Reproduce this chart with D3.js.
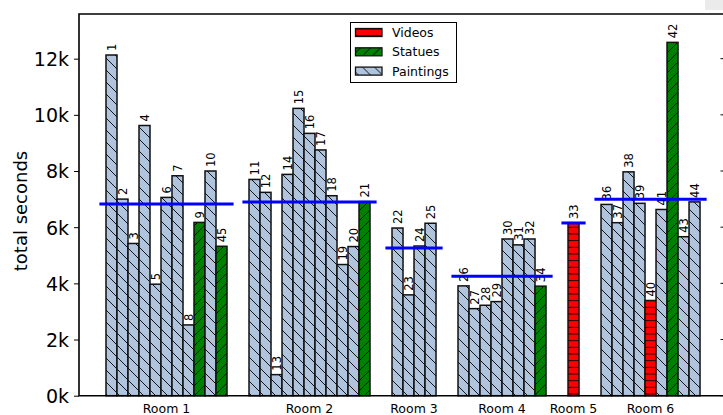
<!DOCTYPE html>
<html>
<head>
<meta charset="utf-8">
<script src="https://cdn.jsdelivr.net/npm/d3@7"></script>
<style>
  html, body { margin: 0; padding: 0; background: #fff; }
  svg { display: block; font-family: "DejaVu Sans", sans-serif; }
</style>
</head>
<body>
<svg id="chart" width="723" height="415"></svg>
<script>
// Time spent per exhibit, grouped by room
const rooms = ["Room 1", "Room 2", "Room 3", "Room 4", "Room 5", "Room 6"];
const exhibitIds = [
  [1, 2, 3, 4, 5, 6, 7, 8, 9, 10, 45],
  [11, 12, 13, 14, 15, 16, 17, 18, 19, 20, 21],
  [22, 23, 24, 25],
  [26, 27, 28, 29, 30, 31, 32, 34],
  [33],
  [36, 37, 38, 39, 40, 41, 42, 43, 44]
];
// V = video, S = statue, P = painting
const exhibitKinds = [
  ["P", "P", "P", "P", "P", "P", "P", "P", "S", "P", "S"],
  ["P", "P", "P", "P", "P", "P", "P", "P", "P", "P", "S"],
  ["P", "P", "P", "P"],
  ["P", "P", "P", "P", "P", "P", "P", "S"],
  ["V"],
  ["P", "P", "P", "P", "V", "P", "S", "P", "P"]
];
const exhibitSeconds = [
  [12130, 7000, 5420, 9620, 3970, 7060, 7830, 2520, 6170, 8000, 5320],
  [7700, 7240, 750, 7880, 10230, 9340, 8750, 7120, 4670, 5310, 6910],
  [5970, 3590, 5330, 6140],
  [3910, 3100, 3220, 3350, 5580, 5370, 5580, 3900],
  [6150],
  [6810, 6160, 7970, 6850, 3390, 6630, 12580, 5660, 6900]
];
const yTicks = [0, 2000, 4000, 6000, 8000, 10000, 12000];
const kindNames = ["Videos", "Statues", "Paintings"];
const kindCodes = ["V", "S", "P"];
const kindColors = ["#ff0000", "#008000", "#b0c4de"];

const svg = d3.select("#chart");
const plot = { left: 79, right: 725, top: 14, bottom: 395.7 };
const roomGap = 2; // empty slots between rooms

// slot layout: each bar takes one slot, rooms separated by a gap
const bars = [];
const roomSpans = [];
let slot = 0;
rooms.forEach((room, r) => {
  const start = slot;
  exhibitIds[r].forEach((id, j) => {
    bars.push({ room: r, id, kind: exhibitKinds[r][j], value: exhibitSeconds[r][j], slot });
    slot += 1;
  });
  roomSpans.push({ room, start, end: slot, mean: d3.mean(exhibitSeconds[r]) });
  slot += roomGap;
});

const x = d3.scaleLinear().domain([-2.4545, 56.27]).range([plot.left, plot.right]);
const y = d3.scaleLinear().domain([0, 13590]).range([plot.bottom, plot.top]);

// hatch patterns
const defs = svg.append("defs");
function hatch(id, color, size, path, w) {
  const p = defs.append("pattern").attr("id", id)
    .attr("patternUnits", "userSpaceOnUse")
    .attr("width", size).attr("height", size);
  p.append("rect").attr("width", size).attr("height", size).attr("fill", color);
  p.append("path").attr("d", path).attr("stroke", "#000").attr("stroke-width", w).attr("fill", "none");
}
const sp = 12, ss = 10, sv = 6.67;
hatch("hatch-P", kindColors[2], sp, `M0,0L${sp},${sp}M${-sp/2},${sp/2}L${sp/2},${sp*1.5}M${sp/2},${-sp/2}L${sp*1.5},${sp/2}`, 0.9);
hatch("hatch-S", kindColors[1], ss, `M0,${ss}L${ss},0M${-ss/2},${ss/2}L${ss/2},${-ss/2}M${ss/2},${ss*1.5}L${ss*1.5},${ss/2}`, 0.9);
(function () {
  const p = defs.append("pattern").attr("id", "hatch-V")
    .attr("patternUnits", "userSpaceOnUse").attr("width", 20).attr("height", sv);
  p.append("rect").attr("width", 20).attr("height", sv).attr("fill", kindColors[0]);
  p.append("line").attr("x1", 0).attr("x2", 20).attr("y1", 0.5).attr("y2", 0.5)
    .attr("stroke", "#000").attr("stroke-width", 0.9);
})();

// light tab at top right corner
svg.append("rect").attr("x", 705).attr("y", 0).attr("width", 18).attr("height", 10).attr("fill", "#ebebeb");

// bars
const barW = x(1) - x(0);
svg.append("g").selectAll("rect").data(bars).join("rect")
  .attr("x", d => x(d.slot))
  .attr("y", d => y(d.value))
  .attr("width", barW)
  .attr("height", d => y(0) - y(d.value))
  .attr("fill", d => `url(#hatch-${d.kind})`)
  .attr("stroke", "#111")
  .attr("stroke-width", 1.5);

// exhibit number labels
svg.append("g").selectAll("text").data(bars).join("text")
  .attr("transform", d => `translate(${x(d.slot + 0.5)},${y(d.value) - 4}) rotate(-90)`)
  .attr("text-anchor", "start")
  .attr("dy", "0.36em")
  .attr("font-size", 11.5)
  .attr("fill", "#000")
  .text(d => d.id);

// room mean lines
svg.append("g").selectAll("line").data(roomSpans).join("line")
  .attr("x1", d => x(d.start - 0.6))
  .attr("x2", d => x(d.end + 0.6))
  .attr("y1", d => y(d.mean))
  .attr("y2", d => y(d.mean))
  .attr("stroke", "#0000ff")
  .attr("stroke-width", 3);

// axes
const yAxis = d3.axisLeft(y).tickValues(yTicks).tickSize(5).tickPadding(5)
  .tickFormat(d => `${d / 1000}k`);
const gy = svg.append("g").attr("transform", `translate(${plot.left},0)`).call(yAxis);
gy.select(".domain").remove();
gy.selectAll(".tick line").attr("stroke", "#000").attr("stroke-width", 1);
gy.selectAll(".tick text").attr("font-size", 19).attr("font-family", "DejaVu Sans")
  .attr("fill", "#000").attr("dy", "0.36em");

// right side ticks
svg.append("g").selectAll("line").data(yTicks).join("line")
  .attr("x1", 720.5).attr("x2", 725)
  .attr("y1", d => y(d)).attr("y2", d => y(d))
  .attr("stroke", "#000").attr("stroke-width", 1);

// room labels under the bars
svg.append("g").selectAll("text").data(roomSpans).join("text")
  .attr("x", d => x((d.start + d.end) / 2))
  .attr("y", 413)
  .attr("text-anchor", "middle")
  .attr("font-size", 12.5)
  .attr("fill", "#000")
  .text(d => d.room);

// frame
svg.append("path")
  .attr("d", `M${plot.right},${plot.top}H${plot.left}V${plot.bottom}H${plot.right}`)
  .attr("fill", "none").attr("stroke", "#000").attr("stroke-width", 1.6);

// y label
svg.append("text")
  .attr("transform", `translate(26.5,211) rotate(-90)`)
  .attr("text-anchor", "middle")
  .attr("font-size", 18)
  .attr("fill", "#000")
  .text("total seconds");

// legend
const lg = svg.append("g").attr("transform", "translate(350.5,22.5)");
lg.append("rect").attr("width", 106).attr("height", 60)
  .attr("fill", "#fff").attr("stroke", "#000").attr("stroke-width", 1);
kindNames.forEach((name, i) => {
  const row = lg.append("g").attr("transform", `translate(0,${6 + i * 19.3})`);
  row.append("rect").attr("x", 5).attr("y", 0).attr("width", 26.5).attr("height", 8)
    .attr("fill", `url(#hatch-${kindCodes[i]})`).attr("stroke", "#111").attr("stroke-width", 1.3);
  row.append("text").attr("x", 41.5).attr("y", 4).attr("dy", "0.36em")
    .attr("font-size", 12.5).attr("fill", "#000").text(name);
});
</script>
</body>
</html>
